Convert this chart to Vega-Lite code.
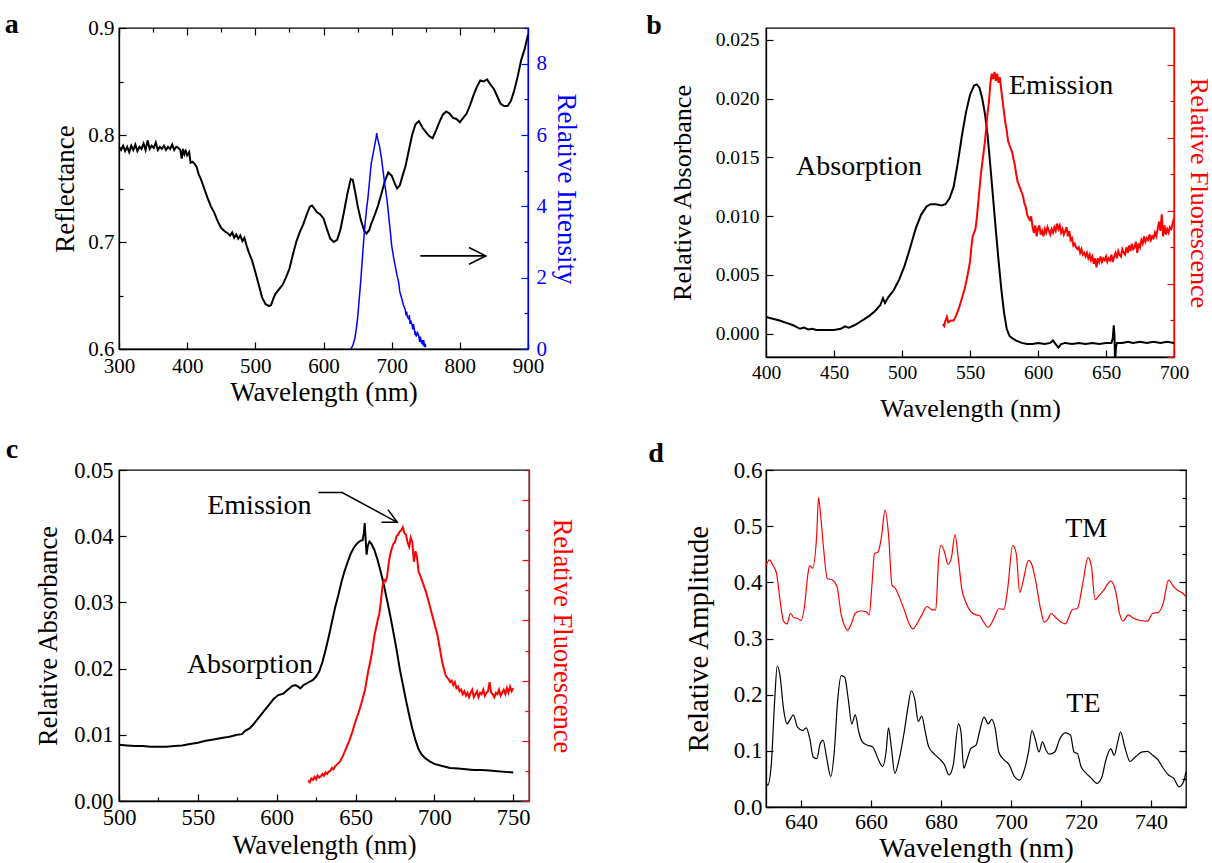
{
"$schema": "https://vega.github.io/schema/vega-lite/v6.json",
"background": "white",
"padding": {"left": 4, "top": 10, "right": 0, "bottom": 0},
"config": {
  "font": "Liberation Serif, DejaVu Serif, serif",
  "view": {"stroke": "black", "strokeWidth": 1.3},
  "axis": {"labelFont": "Liberation Serif, DejaVu Serif, serif", "titleFont": "Liberation Serif, DejaVu Serif, serif", "labelColor": "black", "titleColor": "black", "titleFontWeight": "normal", "domainColor": "black", "tickColor": "black", "domainWidth": 1.3, "tickWidth": 1.2, "grid": false, "labelFlush": false, "labelOverlap": false, "labelBound": false},
  "title": {"font": "Liberation Serif, DejaVu Serif, serif", "fontWeight": "bold", "color": "black"}
},
"columns": 2,
"spacing": {"row": 12, "column": 64},
"concat": [
  {
   "width": 409, "height": 321,
   "title": {"text": "a", "anchor": "start", "frame": "bounds", "fontSize": 28, "dx": -47, "offset": -22},
   "layer": [
    {"layer": [
      {"data": {"values": [
        {"w":300,"v":0.789},{"w":303,"v":0.786},{"w":306,"v":0.790},{"w":309,"v":0.785},{"w":312,"v":0.789},{"w":315,"v":0.784},{"w":318,"v":0.790},{"w":321,"v":0.786},{"w":324,"v":0.791},{"w":327,"v":0.785},{"w":330,"v":0.789},{"w":333,"v":0.787},{"w":336,"v":0.792},{"w":339,"v":0.786},{"w":342,"v":0.795},{"w":345,"v":0.787},{"w":348,"v":0.790},{"w":351,"v":0.788},{"w":354,"v":0.793},{"w":357,"v":0.786},{"w":360,"v":0.789},{"w":363,"v":0.787},{"w":366,"v":0.790},{"w":369,"v":0.786},{"w":372,"v":0.789},{"w":375,"v":0.787},{"w":378,"v":0.791},{"w":381,"v":0.786},{"w":384,"v":0.789},{"w":387,"v":0.788},{"w":390,"v":0.786},{"w":392,"v":0.778},{"w":394,"v":0.787},{"w":396,"v":0.782},{"w":398,"v":0.785},{"w":400,"v":0.781},{"w":403,"v":0.784},{"w":405,"v":0.774},{"w":408,"v":0.775},{"w":411,"v":0.773},{"w":414,"v":0.770},{"w":417,"v":0.763},{"w":420,"v":0.759},{"w":425,"v":0.750},{"w":430,"v":0.741},{"w":435,"v":0.733},{"w":440,"v":0.727},{"w":445,"v":0.719},{"w":450,"v":0.713},{"w":455,"v":0.710},{"w":460,"v":0.708},{"w":463,"v":0.706},{"w":466,"v":0.709},{"w":469,"v":0.704},{"w":472,"v":0.707},{"w":475,"v":0.703},{"w":478,"v":0.706},{"w":481,"v":0.701},{"w":484,"v":0.704},{"w":487,"v":0.697},{"w":490,"v":0.691},{"w":495,"v":0.683},{"w":500,"v":0.672},{"w":505,"v":0.660},{"w":510,"v":0.648},{"w":515,"v":0.642},{"w":520,"v":0.640},{"w":523,"v":0.641},{"w":527,"v":0.648},{"w":530,"v":0.652},{"w":535,"v":0.656},{"w":540,"v":0.660},{"w":545,"v":0.667},{"w":550,"v":0.675},{"w":555,"v":0.688},{"w":560,"v":0.700},{"w":565,"v":0.709},{"w":570,"v":0.716},{"w":575,"v":0.725},{"w":580,"v":0.733},{"w":583,"v":0.734},{"w":587,"v":0.731},{"w":590,"v":0.728},{"w":595,"v":0.726},{"w":600,"v":0.722},{"w":605,"v":0.712},{"w":610,"v":0.703},{"w":615,"v":0.700},{"w":620,"v":0.702},{"w":625,"v":0.712},{"w":630,"v":0.728},{"w":635,"v":0.745},{"w":640,"v":0.759},{"w":643,"v":0.758},{"w":647,"v":0.745},{"w":650,"v":0.734},{"w":655,"v":0.720},{"w":660,"v":0.710},{"w":663,"v":0.708},{"w":667,"v":0.711},{"w":670,"v":0.717},{"w":675,"v":0.725},{"w":680,"v":0.734},{"w":685,"v":0.745},{"w":690,"v":0.757},{"w":695,"v":0.765},{"w":700,"v":0.762},{"w":705,"v":0.754},{"w":708,"v":0.750},{"w":712,"v":0.753},{"w":716,"v":0.762},{"w":720,"v":0.770},{"w":725,"v":0.785},{"w":730,"v":0.800},{"w":735,"v":0.810},{"w":740,"v":0.813},{"w":745,"v":0.807},{"w":750,"v":0.803},{"w":755,"v":0.799},{"w":760,"v":0.797},{"w":765,"v":0.804},{"w":770,"v":0.812},{"w":775,"v":0.819},{"w":780,"v":0.822},{"w":785,"v":0.820},{"w":790,"v":0.816},{"w":795,"v":0.815},{"w":800,"v":0.812},{"w":805,"v":0.816},{"w":810,"v":0.820},{"w":815,"v":0.828},{"w":820,"v":0.837},{"w":825,"v":0.845},{"w":830,"v":0.851},{"w":835,"v":0.850},{"w":840,"v":0.852},{"w":845,"v":0.847},{"w":850,"v":0.843},{"w":855,"v":0.836},{"w":860,"v":0.829},{"w":865,"v":0.827},{"w":870,"v":0.827},{"w":875,"v":0.832},{"w":880,"v":0.842},{"w":885,"v":0.855},{"w":890,"v":0.870},{"w":895,"v":0.880},{"w":900,"v":0.894}
       ]},
       "mark": {"type": "line", "color": "black", "strokeWidth": 2},
       "encoding": {
        "x": {"field": "w", "type": "quantitative", "scale": {"domain": [300, 900]},
              "axis": {"title": "Wavelength (nm)", "values": [300,350,400,450,500,550,600,650,700,750,800,850,900], "labelExpr": "datum.value % 100 === 0 ? datum.label : ''", "tickSize": {"condition": {"test": "datum.value % 100 === 0", "value": -7}, "value": -4}, "labelPadding": 13, "labelFontSize": 21, "titleFontSize": 27, "titlePadding": 3}},
        "y": {"field": "v", "type": "quantitative", "scale": {"domain": [0.6, 0.9]},
              "axis": {"title": "Reflectance", "values": [0.6,0.65,0.7,0.75,0.8,0.85,0.9], "format": ".1f", "labelExpr": "round(datum.value*100) % 10 === 0 ? datum.label : ''", "tickSize": {"condition": {"test": "round(datum.value*100) % 10 === 0", "value": -7}, "value": -4}, "labelPadding": 12, "labelFontSize": 21, "titleFontSize": 27, "titlePadding": 8}}
       }},
      {"data": {"values": [{"w": 742, "v": 0.687}, {"w": 838, "v": 0.687}]},
       "mark": {"type": "line", "color": "black", "strokeWidth": 1.6},
       "encoding": {"x": {"field": "w", "type": "quantitative"}, "y": {"field": "v", "type": "quantitative"}}},
      {"data": {"values": [{"w": 838, "v": 0.687}]},
       "mark": {"type": "point", "shape": "M-2,-1L0,0L-2,1", "filled": false, "stroke": "black", "strokeWidth": 1.6, "size": 280, "opacity": 1},
       "encoding": {"x": {"field": "w", "type": "quantitative"}, "y": {"field": "v", "type": "quantitative"}}}
    ]},
    {"data": {"values": [
      {"w":640,"v":0},{"w":643,"v":0.1},{"w":646,"v":0.3},{"w":648,"v":0.55},{"w":650,"v":0.86},{"w":652,"v":1.3},{"w":655,"v":2.0},{"w":658,"v":2.8},{"w":660,"v":3.3},{"w":663,"v":3.9},{"w":665,"v":4.2},{"w":668,"v":4.8},{"w":670,"v":5.2},{"w":673,"v":5.5},{"w":675,"v":5.7},{"w":677,"v":5.9},{"w":678,"v":6.05},{"w":679,"v":5.95},{"w":680,"v":5.85},{"w":682,"v":5.7},{"w":685,"v":5.35},{"w":688,"v":4.9},{"w":690,"v":4.6},{"w":693,"v":4.2},{"w":695,"v":3.85},{"w":698,"v":3.3},{"w":700,"v":2.9},{"w":703,"v":2.55},{"w":705,"v":2.35},{"w":708,"v":2.05},{"w":710,"v":1.9},{"w":712,"v":1.6},{"w":715,"v":1.4},{"w":717,"v":1.25},{"w":720,"v":1.1},{"w":721,"v":0.95},{"w":722,"v":1.05},{"w":723,"v":0.9},{"w":725,"v":0.85},{"w":726,"v":0.95},{"w":727,"v":0.7},{"w":728,"v":0.8},{"w":730,"v":0.67},{"w":731,"v":0.55},{"w":732,"v":0.7},{"w":734,"v":0.45},{"w":735,"v":0.5},{"w":736,"v":0.35},{"w":738,"v":0.45},{"w":740,"v":0.35},{"w":741,"v":0.2},{"w":742,"v":0.35},{"w":744,"v":0.15},{"w":745,"v":0.25},{"w":746,"v":0.1},{"w":747,"v":0.25},{"w":748,"v":0.05},{"w":749,"v":0.15},{"w":750,"v":0.05}
     ]},
     "mark": {"type": "line", "color": "#0000ff", "strokeWidth": 1.5},
     "encoding": {
      "x": {"field": "w", "type": "quantitative", "axis": {"orient": "top", "title": null, "labels": false, "domain": false, "values": [300,350,400,450,500,550,600,650,700,750,800,850,900], "tickSize": {"condition": {"test": "datum.value % 100 === 0", "value": -7}, "value": -4}}},
      "y": {"field": "v", "type": "quantitative", "scale": {"domain": [0, 9]},
            "axis": {"orient": "right", "title": "Relative Intensity", "values": [0,1,2,3,4,5,6,7,8,9], "labelExpr": "datum.value % 2 === 0 ? datum.label : ''", "tickSize": {"condition": {"test": "datum.value % 2 === 0", "value": -7}, "value": -4}, "labelPadding": 15, "labelFontSize": 21, "titleFontSize": 27, "titlePadding": 5, "labelColor": "#0000ff", "titleColor": "#0000ff", "domainColor": "#0000ff", "tickColor": "#0000ff"}}
     }}
   ],
   "resolve": {"scale": {"y": "independent"}, "axis": {"x": "independent"}}
  },
  {
   "width": 408, "height": 329,
   "title": {"text": "b", "anchor": "start", "frame": "bounds", "fontSize": 28, "dx": -23, "offset": -13},
   "layer": [
    {"layer": [
      {"data": {"values": [
        {"w":400,"v":0.0014},{"w":405,"v":0.00125},{"w":410,"v":0.0011},{"w":415,"v":0.0009},{"w":420,"v":0.0007},{"w":425,"v":0.0004},{"w":428,"v":0.0005},{"w":431,"v":0.00035},{"w":434,"v":0.0004},{"w":437,"v":0.0003},{"w":440,"v":0.0003},{"w":445,"v":0.0003},{"w":450,"v":0.0003},{"w":455,"v":0.0004},{"w":458,"v":0.0006},{"w":461,"v":0.0005},{"w":465,"v":0.0007},{"w":468,"v":0.0009},{"w":472,"v":0.0012},{"w":476,"v":0.0015},{"w":480,"v":0.0019},{"w":484,"v":0.0024},{"w":486,"v":0.0030},{"w":487.5,"v":0.0026},{"w":490,"v":0.0031},{"w":494,"v":0.0037},{"w":498,"v":0.0046},{"w":502,"v":0.0058},{"w":506,"v":0.0073},{"w":510,"v":0.0089},{"w":514,"v":0.0101},{"w":518,"v":0.0108},{"w":521,"v":0.0110},{"w":525,"v":0.0110},{"w":529,"v":0.0109},{"w":532,"v":0.0110},{"w":535,"v":0.0115},{"w":538,"v":0.0125},{"w":541,"v":0.0145},{"w":544,"v":0.0168},{"w":547,"v":0.0188},{"w":550,"v":0.0203},{"w":553,"v":0.0211},{"w":555,"v":0.0212},{"w":557,"v":0.0209},{"w":559,"v":0.0200},{"w":561,"v":0.0187},{"w":563,"v":0.0168},{"w":565,"v":0.0142},{"w":567,"v":0.0115},{"w":569,"v":0.0088},{"w":571,"v":0.0062},{"w":573,"v":0.0038},{"w":575,"v":0.0018},{"w":577,"v":0.0004},{"w":579,"v":-0.0002},{"w":581,"v":-0.0004},{"w":584,"v":-0.0006},{"w":588,"v":-0.0008},{"w":592,"v":-0.0009},{"w":596,"v":-0.0009},{"w":600,"v":-0.0008},{"w":605,"v":-0.0009},{"w":609,"v":-0.0008},{"w":611,"v":-0.0006},{"w":613,"v":-0.0009},{"w":615,"v":-0.0012},{"w":617,"v":-0.0009},{"w":620,"v":-0.0008},{"w":625,"v":-0.0009},{"w":630,"v":-0.0008},{"w":635,"v":-0.0009},{"w":640,"v":-0.0008},{"w":645,"v":-0.0009},{"w":650,"v":-0.0008},{"w":654,"v":-0.0008},{"w":655,"v":-0.0004},{"w":655.7,"v":0.0007},{"w":656.2,"v":-0.0001},{"w":656.7,"v":-0.0025},{"w":657.3,"v":-0.0012},{"w":658,"v":-0.0008},{"w":662,"v":-0.0008},{"w":666,"v":-0.0007},{"w":670,"v":-0.0008},{"w":675,"v":-0.0007},{"w":680,"v":-0.0008},{"w":685,"v":-0.0007},{"w":690,"v":-0.0008},{"w":695,"v":-0.0007},{"w":700,"v":-0.0008}
       ]},
       "mark": {"type": "line", "color": "black", "strokeWidth": 2, "clip": true},
       "encoding": {
        "x": {"field": "w", "type": "quantitative", "scale": {"domain": [400, 700]},
              "axis": {"title": "Wavelength (nm)", "values": [400,425,450,475,500,525,550,575,600,625,650,675,700], "labelExpr": "datum.value % 50 === 0 ? datum.label : ''", "tickSize": {"condition": {"test": "datum.value % 50 === 0", "value": -7}, "value": -4}, "labelPadding": 13, "labelFontSize": 19.5, "titleFontSize": 26, "titlePadding": 14}},
        "y": {"field": "v", "type": "quantitative", "scale": {"domain": [-0.002, 0.025]},
              "axis": {"title": "Relative Absorbance", "values": [0,0.0025,0.005,0.0075,0.01,0.0125,0.015,0.0175,0.02,0.0225,0.025], "format": ".3f", "labelExpr": "round(datum.value*10000) % 50 === 0 ? datum.label : ''", "tickSize": {"condition": {"test": "round(datum.value*10000) % 50 === 0", "value": -7}, "value": -4}, "labelPadding": 14, "labelFontSize": 19.5, "titleFontSize": 26, "titlePadding": 20}}
       }},
      {"data": {"values": [{"w": 468.4, "v": 0.0142, "t": "Absorption"}, {"w": 617, "v": 0.0211, "t": "Emission"}]},
       "mark": {"type": "text", "font": "Liberation Serif, DejaVu Serif, serif", "fontSize": 28, "color": "black", "align": "center", "baseline": "middle"},
       "encoding": {"x": {"field": "w", "type": "quantitative"}, "y": {"field": "v", "type": "quantitative"}, "text": {"field": "t"}}}
    ]},
    {"data": {"values": [
      {"w":530,"v":0.9},{"w":531,"v":0.85},{"w":532,"v":1.0},{"w":533,"v":1.1},{"w":534,"v":0.95},{"w":536,"v":1.0},{"w":538,"v":1.0},{"w":540,"v":1.15},{"w":542,"v":1.35},{"w":544,"v":1.6},{"w":546,"v":1.85},{"w":548,"v":2.2},{"w":550,"v":2.6},{"w":551,"v":3.0},{"w":552,"v":3.3},{"w":553,"v":3.4},{"w":554,"v":3.5},{"w":555,"v":3.8},{"w":556,"v":4.2},{"w":557,"v":4.6},{"w":558,"v":5.0},{"w":559,"v":5.3},{"w":560,"v":5.6},{"w":561,"v":5.9},{"w":562,"v":6.3},{"w":563,"v":6.7},{"w":564,"v":7.0},{"w":565,"v":7.5},{"w":566,"v":7.75},{"w":567,"v":7.6},{"w":568,"v":7.8},{"w":569,"v":7.55},{"w":570,"v":7.75},{"w":571,"v":7.5},{"w":572,"v":7.65},{"w":573,"v":7.3},{"w":574,"v":7.0},{"w":575,"v":6.7},{"w":576,"v":6.4},{"w":577,"v":6.2},{"w":578,"v":5.9},{"w":579,"v":5.8},{"w":580,"v":5.7},{"w":581,"v":5.6},{"w":582,"v":5.4},{"w":583,"v":5.25},{"w":584,"v":5.0},{"w":585,"v":4.8},{"w":586,"v":4.7},{"w":587,"v":4.6},{"w":588,"v":4.5},{"w":589,"v":4.4},{"w":590,"v":4.2},{"w":591,"v":4.1},{"w":592,"v":3.9},{"w":593,"v":3.8},{"w":594,"v":3.75},{"w":595,"v":3.85},{"w":596,"v":3.55},{"w":597,"v":3.4},{"w":598,"v":3.6},{"w":599,"v":3.3},{"w":600,"v":3.5},{"w":601,"v":3.6},{"w":602,"v":3.35},{"w":603,"v":3.45},{"w":604,"v":3.3},{"w":605,"v":3.5},{"w":606,"v":3.4},{"w":607,"v":3.55},{"w":608,"v":3.45},{"w":609,"v":3.35},{"w":610,"v":3.5},{"w":611,"v":3.4},{"w":612,"v":3.55},{"w":613,"v":3.45},{"w":614,"v":3.65},{"w":615,"v":3.5},{"w":616,"v":3.6},{"w":617,"v":3.4},{"w":618,"v":3.5},{"w":619,"v":3.35},{"w":620,"v":3.45},{"w":621,"v":3.55},{"w":622,"v":3.3},{"w":623,"v":3.45},{"w":624,"v":3.2},{"w":625,"v":3.25},{"w":626,"v":3.05},{"w":627,"v":3.1},{"w":628,"v":3.0},{"w":629,"v":2.95},{"w":630,"v":3.0},{"w":631,"v":2.85},{"w":632,"v":2.95},{"w":633,"v":2.8},{"w":634,"v":2.85},{"w":635,"v":2.75},{"w":636,"v":2.85},{"w":637,"v":2.7},{"w":638,"v":2.8},{"w":639,"v":2.65},{"w":640,"v":2.75},{"w":641,"v":2.55},{"w":642,"v":2.7},{"w":643,"v":2.45},{"w":644,"v":2.7},{"w":645,"v":2.6},{"w":646,"v":2.75},{"w":647,"v":2.6},{"w":648,"v":2.7},{"w":649,"v":2.65},{"w":650,"v":2.75},{"w":651,"v":2.6},{"w":652,"v":2.7},{"w":653,"v":2.65},{"w":654,"v":2.8},{"w":655,"v":2.6},{"w":656,"v":2.75},{"w":657,"v":2.85},{"w":658,"v":2.7},{"w":659,"v":2.9},{"w":660,"v":2.8},{"w":661,"v":2.75},{"w":662,"v":2.95},{"w":663,"v":2.85},{"w":664,"v":2.8},{"w":665,"v":3.0},{"w":666,"v":2.85},{"w":667,"v":3.05},{"w":668,"v":2.9},{"w":669,"v":3.1},{"w":670,"v":2.95},{"w":671,"v":3.0},{"w":672,"v":3.15},{"w":673,"v":2.85},{"w":674,"v":3.1},{"w":675,"v":3.0},{"w":676,"v":3.2},{"w":677,"v":3.1},{"w":678,"v":3.3},{"w":679,"v":3.15},{"w":680,"v":3.25},{"w":681,"v":3.2},{"w":682,"v":3.35},{"w":683,"v":3.2},{"w":684,"v":3.3},{"w":685,"v":3.25},{"w":686,"v":3.4},{"w":687,"v":3.3},{"w":688,"v":3.5},{"w":689,"v":3.7},{"w":690,"v":3.45},{"w":691,"v":3.9},{"w":692,"v":3.3},{"w":693,"v":3.6},{"w":694,"v":3.35},{"w":695,"v":3.5},{"w":696,"v":3.4},{"w":697,"v":3.55},{"w":698,"v":3.5},{"w":699,"v":3.65},{"w":700,"v":3.8}
     ]},
     "mark": {"type": "line", "color": "#ff0000", "strokeWidth": 2},
     "encoding": {
      "x": {"field": "w", "type": "quantitative"},
      "y": {"field": "v", "type": "quantitative", "scale": {"domain": [0, 9]},
            "axis": {"orient": "right", "title": "Relative Fluorescence", "labels": false, "values": [0,1,2,3,4,5,6,7,8,9], "tickSize": {"condition": {"test": "datum.value % 2 === 0", "value": -7}, "value": -4}, "titleFontSize": 26, "titlePadding": 11, "titleColor": "#ff0000", "domainColor": "#ff0000", "tickColor": "#ff0000"}}
     }}
   ],
   "resolve": {"scale": {"y": "independent"}}
  },
  {
   "width": 410, "height": 331,
   "title": {"text": "c", "anchor": "start", "frame": "bounds", "fontSize": 28, "dx": -30, "offset": -5},
   "layer": [
    {"layer": [
      {"data": {"values": [
        {"w":500,"v":0.0085},{"w":505,"v":0.0084},{"w":510,"v":0.0083},{"w":515,"v":0.0083},{"w":520,"v":0.0082},{"w":525,"v":0.0082},{"w":530,"v":0.0082},{"w":535,"v":0.0083},{"w":540,"v":0.0084},{"w":545,"v":0.0086},{"w":550,"v":0.0088},{"w":555,"v":0.0091},{"w":560,"v":0.0093},{"w":565,"v":0.0095},{"w":570,"v":0.0097},{"w":575,"v":0.0100},{"w":578,"v":0.0101},{"w":580,"v":0.0106},{"w":583,"v":0.0110},{"w":586,"v":0.0118},{"w":589,"v":0.0127},{"w":592,"v":0.0136},{"w":595,"v":0.0145},{"w":598,"v":0.0154},{"w":601,"v":0.0160},{"w":604,"v":0.0162},{"w":607,"v":0.0168},{"w":610,"v":0.0174},{"w":612,"v":0.0175},{"w":614,"v":0.0172},{"w":615,"v":0.0170},{"w":617,"v":0.0175},{"w":620,"v":0.0179},{"w":623,"v":0.0183},{"w":625,"v":0.0188},{"w":627,"v":0.0196},{"w":629,"v":0.0210},{"w":631,"v":0.0228},{"w":633,"v":0.0248},{"w":635,"v":0.0270},{"w":637,"v":0.0292},{"w":639,"v":0.0310},{"w":641,"v":0.0330},{"w":643,"v":0.0347},{"w":645,"v":0.0361},{"w":647,"v":0.0374},{"w":649,"v":0.0383},{"w":651,"v":0.0389},{"w":653,"v":0.0393},{"w":654.5,"v":0.0394},{"w":655.3,"v":0.0405},{"w":655.8,"v":0.0420},{"w":656.3,"v":0.0400},{"w":657,"v":0.0372},{"w":657.7,"v":0.0385},{"w":658.8,"v":0.0392},{"w":660,"v":0.0389},{"w":662,"v":0.0379},{"w":664,"v":0.0364},{"w":666,"v":0.0346},{"w":668,"v":0.0326},{"w":670,"v":0.0303},{"w":672,"v":0.0280},{"w":674,"v":0.0255},{"w":676,"v":0.0229},{"w":678,"v":0.0200},{"w":680,"v":0.0176},{"w":682,"v":0.0152},{"w":684,"v":0.0130},{"w":686,"v":0.0109},{"w":688,"v":0.0092},{"w":690,"v":0.0078},{"w":692,"v":0.0070},{"w":694,"v":0.0065},{"w":697,"v":0.0060},{"w":700,"v":0.0056},{"w":705,"v":0.0053},{"w":710,"v":0.0050},{"w":715,"v":0.0049},{"w":720,"v":0.0048},{"w":725,"v":0.0047},{"w":730,"v":0.0047},{"w":735,"v":0.0046},{"w":740,"v":0.0045},{"w":745,"v":0.0044},{"w":750,"v":0.0043}
       ]},
       "mark": {"type": "line", "color": "black", "strokeWidth": 2},
       "encoding": {
        "x": {"field": "w", "type": "quantitative", "scale": {"domain": [500, 750]},
              "axis": {"title": "Wavelength (nm)", "values": [500,525,550,575,600,625,650,675,700,725,750], "labelExpr": "datum.value % 50 === 0 ? datum.label : ''", "tickSize": {"condition": {"test": "datum.value % 50 === 0", "value": -7}, "value": -4}, "labelPadding": 12, "labelFontSize": 22.5, "titleFontSize": 26.5, "titlePadding": 1}},
        "y": {"field": "v", "type": "quantitative", "scale": {"domain": [0, 0.05]},
              "axis": {"title": "Relative Absorbance", "values": [0,0.005,0.01,0.015,0.02,0.025,0.03,0.035,0.04,0.045,0.05], "format": ".2f", "labelExpr": "round(datum.value*1000) % 10 === 0 ? datum.label : ''", "tickSize": {"condition": {"test": "round(datum.value*1000) % 10 === 0", "value": -7}, "value": -4}, "labelPadding": 13, "labelFontSize": 22.5, "titleFontSize": 26.5, "titlePadding": 11}}
       }},
      {"data": {"values": [{"w": 583, "v": 0.0205, "t": "Absorption"}, {"w": 589, "v": 0.0446, "t": "Emission"}]},
       "mark": {"type": "text", "font": "Liberation Serif, DejaVu Serif, serif", "fontSize": 28, "color": "black", "align": "center", "baseline": "middle"},
       "encoding": {"x": {"field": "w", "type": "quantitative"}, "y": {"field": "v", "type": "quantitative"}, "text": {"field": "t"}}},
      {"data": {"values": [{"w": 626.5, "v": 0.0466}, {"w": 641.5, "v": 0.0466}, {"w": 676.5, "v": 0.0421}]},
       "mark": {"type": "line", "color": "black", "strokeWidth": 1.5},
       "encoding": {"x": {"field": "w", "type": "quantitative"}, "y": {"field": "v", "type": "quantitative"}}},
      {"data": {"values": [{"w": 676.5, "v": 0.0421}]},
       "mark": {"type": "point", "shape": "M-2,-1L0,0L-2,1", "filled": false, "stroke": "black", "strokeWidth": 1.5, "size": 200, "angle": 27, "opacity": 1},
       "encoding": {"x": {"field": "w", "type": "quantitative"}, "y": {"field": "v", "type": "quantitative"}}}
    ]},
    {"data": {"values": [
      {"w":620,"v":0.68},{"w":621,"v":0.62},{"w":622,"v":0.75},{"w":623,"v":0.7},{"w":624,"v":0.8},{"w":625,"v":0.72},{"w":626,"v":0.85},{"w":627,"v":0.78},{"w":628,"v":0.82},{"w":629,"v":0.9},{"w":630,"v":0.84},{"w":631,"v":0.95},{"w":632,"v":0.9},{"w":633,"v":0.98},{"w":634,"v":1.0},{"w":635,"v":1.1},{"w":636,"v":1.05},{"w":637,"v":1.15},{"w":638,"v":1.2},{"w":640,"v":1.3},{"w":642,"v":1.5},{"w":644,"v":1.75},{"w":646,"v":2.0},{"w":648,"v":2.3},{"w":650,"v":2.65},{"w":652,"v":2.95},{"w":654,"v":3.3},{"w":656,"v":3.7},{"w":658,"v":4.3},{"w":660,"v":4.8},{"w":662,"v":5.5},{"w":664,"v":6.0},{"w":665,"v":6.2},{"w":666,"v":6.6},{"w":667,"v":7.1},{"w":668,"v":7.35},{"w":669,"v":7.3},{"w":670,"v":7.45},{"w":671,"v":7.9},{"w":672,"v":8.2},{"w":673,"v":8.4},{"w":674,"v":8.55},{"w":675,"v":8.6},{"w":676,"v":8.8},{"w":677,"v":8.85},{"w":678,"v":8.95},{"w":679,"v":9.0},{"w":680,"v":9.1},{"w":681,"v":8.9},{"w":682,"v":8.85},{"w":683,"v":8.6},{"w":684,"v":8.45},{"w":685,"v":8.75},{"w":686,"v":8.6},{"w":687,"v":7.95},{"w":688,"v":8.3},{"w":689,"v":8.1},{"w":690,"v":7.6},{"w":691,"v":7.5},{"w":692,"v":7.35},{"w":693,"v":7.2},{"w":694,"v":7.05},{"w":695,"v":6.9},{"w":696,"v":6.7},{"w":697,"v":6.5},{"w":698,"v":6.3},{"w":699,"v":6.1},{"w":700,"v":5.9},{"w":701,"v":5.7},{"w":702,"v":5.5},{"w":703,"v":5.2},{"w":704,"v":4.9},{"w":705,"v":4.6},{"w":706,"v":4.4},{"w":707,"v":4.2},{"w":708,"v":4.1},{"w":709,"v":4.05},{"w":710,"v":3.95},{"w":711,"v":4.0},{"w":712,"v":3.85},{"w":713,"v":3.95},{"w":714,"v":3.75},{"w":715,"v":3.8},{"w":716,"v":3.65},{"w":717,"v":3.7},{"w":718,"v":3.55},{"w":719,"v":3.65},{"w":720,"v":3.5},{"w":721,"v":3.6},{"w":722,"v":3.45},{"w":723,"v":3.6},{"w":724,"v":3.7},{"w":725,"v":3.45},{"w":726,"v":3.55},{"w":727,"v":3.65},{"w":728,"v":3.45},{"w":729,"v":3.6},{"w":730,"v":3.55},{"w":731,"v":3.7},{"w":732,"v":3.5},{"w":733,"v":3.6},{"w":734,"v":3.65},{"w":735,"v":3.95},{"w":736,"v":3.6},{"w":737,"v":3.55},{"w":738,"v":3.45},{"w":739,"v":3.6},{"w":740,"v":3.55},{"w":741,"v":3.7},{"w":742,"v":3.5},{"w":743,"v":3.6},{"w":744,"v":3.7},{"w":745,"v":3.55},{"w":746,"v":3.75},{"w":747,"v":3.6},{"w":748,"v":3.8},{"w":749,"v":3.65},{"w":750,"v":3.75}
     ]},
     "mark": {"type": "line", "color": "#ff0000", "strokeWidth": 2},
     "encoding": {
      "x": {"field": "w", "type": "quantitative"},
      "y": {"field": "v", "type": "quantitative", "scale": {"domain": [0, 11]},
            "axis": {"orient": "right", "title": "Relative Fluorescence", "labels": false, "values": [0,1,2,3,4,5,6,7,8,9,10,11], "tickSize": {"condition": {"test": "datum.value % 2 === 0", "value": -7}, "value": -4}, "titleFontSize": 26.5, "titlePadding": 18, "titleColor": "#ff0000", "domainColor": "#ff0000", "tickColor": "#ff0000"}}
     }}
   ],
   "resolve": {"scale": {"y": "independent"}}
  },
  {
   "width": 420, "height": 337,
   "title": {"text": "d", "anchor": "start", "frame": "bounds", "fontSize": 28, "dx": -36, "offset": -9},
   "layer": [
    {"layer": [
      {"data": {"values": [
        {"w":630,"v":0.43},{"w":631,"v":0.44},{"w":632,"v":0.43},{"w":633,"v":0.416},{"w":634,"v":0.369},{"w":635,"v":0.331},{"w":636,"v":0.326},{"w":637,"v":0.345},{"w":638,"v":0.337},{"w":639,"v":0.336},{"w":640,"v":0.332},{"w":641,"v":0.357},{"w":642,"v":0.416},{"w":642.5,"v":0.43},{"w":643.3,"v":0.425},{"w":644.5,"v":0.486},{"w":645,"v":0.551},{"w":645.6,"v":0.52},{"w":646.5,"v":0.457},{"w":647.5,"v":0.407},{"w":649,"v":0.404},{"w":650.3,"v":0.392},{"w":651.5,"v":0.342},{"w":652.5,"v":0.322},{"w":653.3,"v":0.315},{"w":654.5,"v":0.328},{"w":655.5,"v":0.345},{"w":657,"v":0.349},{"w":658.5,"v":0.348},{"w":659.5,"v":0.342},{"w":660.3,"v":0.398},{"w":661,"v":0.451},{"w":662,"v":0.454},{"w":663,"v":0.481},{"w":664,"v":0.529},{"w":665,"v":0.486},{"w":666,"v":0.395},{"w":667,"v":0.389},{"w":668,"v":0.375},{"w":669.5,"v":0.351},{"w":671,"v":0.325},{"w":672,"v":0.317},{"w":673,"v":0.325},{"w":674.5,"v":0.342},{"w":676,"v":0.357},{"w":677.5,"v":0.351},{"w":678.5,"v":0.351},{"w":679.3,"v":0.439},{"w":680,"v":0.466},{"w":681,"v":0.454},{"w":682,"v":0.432},{"w":683,"v":0.445},{"w":684,"v":0.485},{"w":685,"v":0.439},{"w":686,"v":0.386},{"w":687,"v":0.366},{"w":688.5,"v":0.348},{"w":690,"v":0.342},{"w":691,"v":0.341},{"w":692,"v":0.331},{"w":693.5,"v":0.32},{"w":695,"v":0.334},{"w":696.5,"v":0.353},{"w":698,"v":0.352},{"w":699,"v":0.386},{"w":700.5,"v":0.466},{"w":701.5,"v":0.451},{"w":702.5,"v":0.382},{"w":703.5,"v":0.404},{"w":705,"v":0.439},{"w":706,"v":0.431},{"w":707,"v":0.404},{"w":708.5,"v":0.351},{"w":709.5,"v":0.329},{"w":710.5,"v":0.334},{"w":711.5,"v":0.345},{"w":713,"v":0.336},{"w":715.5,"v":0.326},{"w":717.5,"v":0.351},{"w":719,"v":0.354},{"w":720.5,"v":0.398},{"w":722,"v":0.444},{"w":723,"v":0.428},{"w":724,"v":0.369},{"w":725,"v":0.375},{"w":726.5,"v":0.386},{"w":728.5,"v":0.402},{"w":730,"v":0.381},{"w":731,"v":0.345},{"w":732,"v":0.331},{"w":733.5,"v":0.342},{"w":735,"v":0.336},{"w":737,"v":0.332},{"w":739,"v":0.331},{"w":740.5,"v":0.345},{"w":742,"v":0.346},{"w":743.5,"v":0.363},{"w":745,"v":0.404},{"w":746.5,"v":0.392},{"w":748,"v":0.384},{"w":749,"v":0.381},{"w":750,"v":0.374}
       ]},
       "mark": {"type": "line", "color": "#ff0000", "strokeWidth": 1.2, "interpolate": "monotone"},
       "encoding": {
        "x": {"field": "w", "type": "quantitative", "scale": {"domain": [630, 750]},
              "axis": {"title": "Wavelength (nm)", "values": [640,660,680,700,720,740], "labels": true, "tickSize": -7, "labelPadding": 11, "labelFontSize": 22, "titleFontSize": 28, "titlePadding": 2}},
        "y": {"field": "v", "type": "quantitative", "scale": {"domain": [0, 0.6]},
              "axis": {"title": "Relative Amplitude", "values": [0,0.05,0.1,0.15,0.2,0.25,0.3,0.35,0.4,0.45,0.5,0.55,0.6], "format": ".1f", "labelExpr": "round(datum.value*100) % 10 === 0 ? datum.label : ''", "tickSize": {"condition": {"test": "round(datum.value*100) % 10 === 0", "value": -7}, "value": -4}, "labelPadding": 11, "labelFontSize": 23, "titleFontSize": 29, "titlePadding": 20}}
       }},
      {"data": {"values": [{"w": 721.5, "v": 0.495, "t": "TM"}, {"w": 720.7, "v": 0.184, "t": "TE"}]},
       "mark": {"type": "text", "font": "Liberation Serif, DejaVu Serif, serif", "fontSize": 28, "color": "black", "align": "center", "baseline": "middle"},
       "encoding": {"x": {"field": "w", "type": "quantitative"}, "y": {"field": "v", "type": "quantitative"}, "text": {"field": "t"}}}
    ]},
    {"data": {"values": [
      {"w":630,"v":0.045},{"w":630.5,"v":0.039},{"w":631.5,"v":0.075},{"w":632.5,"v":0.192},{"w":633.2,"v":0.251},{"w":634,"v":0.234},{"w":635,"v":0.175},{"w":636,"v":0.148},{"w":637,"v":0.157},{"w":637.8,"v":0.164},{"w":639,"v":0.142},{"w":640.5,"v":0.136},{"w":641.5,"v":0.141},{"w":642.5,"v":0.122},{"w":643.5,"v":0.089},{"w":644.5,"v":0.086},{"w":645.5,"v":0.113},{"w":646.3,"v":0.119},{"w":647.3,"v":0.089},{"w":648.5,"v":0.054},{"w":649.5,"v":0.098},{"w":650.5,"v":0.192},{"w":651.5,"v":0.234},{"w":652.5,"v":0.231},{"w":653.5,"v":0.192},{"w":654.5,"v":0.148},{"w":655.5,"v":0.164},{"w":656.5,"v":0.134},{"w":657.5,"v":0.116},{"w":659,"v":0.11},{"w":660.5,"v":0.107},{"w":662,"v":0.086},{"w":663.3,"v":0.072},{"w":664.3,"v":0.098},{"w":665,"v":0.141},{"w":665.8,"v":0.107},{"w":666.8,"v":0.06},{"w":668,"v":0.084},{"w":669.5,"v":0.134},{"w":670.5,"v":0.175},{"w":671.5,"v":0.207},{"w":672.5,"v":0.192},{"w":673.5,"v":0.152},{"w":674.5,"v":0.162},{"w":675.5,"v":0.134},{"w":676.5,"v":0.107},{"w":678,"v":0.095},{"w":679.5,"v":0.086},{"w":681,"v":0.075},{"w":682.3,"v":0.057},{"w":683.5,"v":0.075},{"w":685,"v":0.148},{"w":685.7,"v":0.134},{"w":686.5,"v":0.069},{"w":687.5,"v":0.086},{"w":688.5,"v":0.104},{"w":690,"v":0.11},{"w":691,"v":0.134},{"w":692.3,"v":0.16},{"w":693.5,"v":0.148},{"w":694.5,"v":0.156},{"w":695.5,"v":0.139},{"w":696.5,"v":0.098},{"w":698,"v":0.084},{"w":699.5,"v":0.075},{"w":701,"v":0.054},{"w":702.5,"v":0.048},{"w":703.5,"v":0.06},{"w":705,"v":0.098},{"w":706,"v":0.136},{"w":707,"v":0.119},{"w":708,"v":0.098},{"w":709,"v":0.116},{"w":710,"v":0.101},{"w":711,"v":0.094},{"w":712.5,"v":0.098},{"w":714,"v":0.122},{"w":715.5,"v":0.132},{"w":717,"v":0.128},{"w":718,"v":0.098},{"w":719,"v":0.095},{"w":720,"v":0.072},{"w":721.5,"v":0.06},{"w":723,"v":0.051},{"w":724.5,"v":0.042},{"w":726,"v":0.054},{"w":727,"v":0.081},{"w":728.5,"v":0.104},{"w":729.5,"v":0.092},{"w":730.5,"v":0.116},{"w":731.3,"v":0.134},{"w":732.5,"v":0.107},{"w":734,"v":0.081},{"w":735.5,"v":0.089},{"w":737.5,"v":0.098},{"w":739,"v":0.099},{"w":740.5,"v":0.092},{"w":742,"v":0.084},{"w":743.5,"v":0.069},{"w":745,"v":0.057},{"w":746.5,"v":0.051},{"w":748,"v":0.036},{"w":749.3,"v":0.045},{"w":750,"v":0.063}
     ]},
     "mark": {"type": "line", "color": "black", "strokeWidth": 1.2, "interpolate": "monotone"},
     "encoding": {
      "x": {"field": "w", "type": "quantitative"},
      "y": {"field": "v", "type": "quantitative", "scale": {"domain": [0, 0.6]},
            "axis": {"orient": "right", "title": null, "labels": false, "domain": false, "values": [0,0.05,0.1,0.15,0.2,0.25,0.3,0.35,0.4,0.45,0.5,0.55,0.6], "tickSize": {"condition": {"test": "round(datum.value*100) % 10 === 0", "value": -7}, "value": -4}}}
     }}
   ],
   "resolve": {"scale": {"y": "independent"}}
  }
]
}
